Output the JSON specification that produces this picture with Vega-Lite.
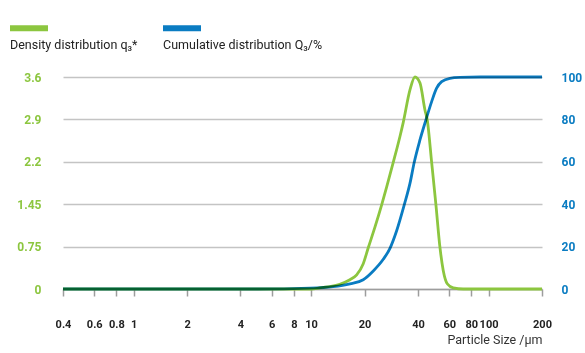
{
  "$schema": "https://vega.github.io/schema/vega-lite/v6.json",
  "autosize": {"type": "none"},
  "padding": {"left": 63, "top": 77, "right": 43, "bottom": 64},
  "width": 479,
  "height": 212,
  "background": "white",
  "config": {
    "view": {"stroke": null},
    "font": "Roboto, sans-serif"
  },
  "data": {
    "values": [
      {"size": 0.4, "value": 0, "series": "Density distribution q₃*"},
      {"size": 1, "value": 0, "series": "Density distribution q₃*"},
      {"size": 5, "value": 0, "series": "Density distribution q₃*"},
      {"size": 10, "value": 0, "series": "Density distribution q₃*"},
      {"size": 11.2, "value": 0.02, "series": "Density distribution q₃*"},
      {"size": 14.5, "value": 0.08, "series": "Density distribution q₃*"},
      {"size": 16.55, "value": 0.157, "series": "Density distribution q₃*"},
      {"size": 18.06, "value": 0.24, "series": "Density distribution q₃*"},
      {"size": 19.67, "value": 0.43, "series": "Density distribution q₃*"},
      {"size": 20.99, "value": 0.7, "series": "Density distribution q₃*"},
      {"size": 22.89, "value": 1.05, "series": "Density distribution q₃*"},
      {"size": 24.98, "value": 1.43, "series": "Density distribution q₃*"},
      {"size": 26.66, "value": 1.735, "series": "Density distribution q₃*"},
      {"size": 29.03, "value": 2.15, "series": "Density distribution q₃*"},
      {"size": 31.67, "value": 2.59, "series": "Density distribution q₃*"},
      {"size": 33.06, "value": 2.83, "series": "Density distribution q₃*"},
      {"size": 36.06, "value": 3.38, "series": "Density distribution q₃*"},
      {"size": 38.47, "value": 3.6, "series": "Density distribution q₃*"},
      {"size": 41.05, "value": 3.5, "series": "Density distribution q₃*"},
      {"size": 43.8, "value": 3.04, "series": "Density distribution q₃*"},
      {"size": 45.13, "value": 2.87, "series": "Density distribution q₃*"},
      {"size": 47.78, "value": 2.15, "series": "Density distribution q₃*"},
      {"size": 50.51, "value": 1.43, "series": "Density distribution q₃*"},
      {"size": 53.2, "value": 0.71, "series": "Density distribution q₃*"},
      {"size": 55.53, "value": 0.315, "series": "Density distribution q₃*"},
      {"size": 58.5, "value": 0.09, "series": "Density distribution q₃*"},
      {"size": 63.22, "value": 0.02, "series": "Density distribution q₃*"},
      {"size": 72, "value": 0, "series": "Density distribution q₃*"},
      {"size": 200, "value": 0, "series": "Density distribution q₃*"},
      {"size": 0.4, "value": 0, "series": "Cumulative distribution Q₃/%"},
      {"size": 1, "value": 0, "series": "Cumulative distribution Q₃/%"},
      {"size": 5, "value": 0, "series": "Cumulative distribution Q₃/%"},
      {"size": 9.9, "value": 0.4, "series": "Cumulative distribution Q₃/%"},
      {"size": 13.3, "value": 1.1, "series": "Cumulative distribution Q₃/%"},
      {"size": 16.55, "value": 2.46, "series": "Cumulative distribution Q₃/%"},
      {"size": 19.67, "value": 4.36, "series": "Cumulative distribution Q₃/%"},
      {"size": 22.4, "value": 8.5, "series": "Cumulative distribution Q₃/%"},
      {"size": 25.5, "value": 14.0, "series": "Cumulative distribution Q₃/%"},
      {"size": 27.82, "value": 19.2, "series": "Cumulative distribution Q₃/%"},
      {"size": 30.34, "value": 27.5, "series": "Cumulative distribution Q₃/%"},
      {"size": 33.48, "value": 39.7, "series": "Cumulative distribution Q₃/%"},
      {"size": 36.06, "value": 49.8, "series": "Cumulative distribution Q₃/%"},
      {"size": 38.12, "value": 59.8, "series": "Cumulative distribution Q₃/%"},
      {"size": 41.05, "value": 70.3, "series": "Cumulative distribution Q₃/%"},
      {"size": 44.37, "value": 79.8, "series": "Cumulative distribution Q₃/%"},
      {"size": 47.78, "value": 88.4, "series": "Cumulative distribution Q₃/%"},
      {"size": 50.97, "value": 94.7, "series": "Cumulative distribution Q₃/%"},
      {"size": 54.39, "value": 97.8, "series": "Cumulative distribution Q₃/%"},
      {"size": 60.57, "value": 99.4, "series": "Cumulative distribution Q₃/%"},
      {"size": 68.98, "value": 99.8, "series": "Cumulative distribution Q₃/%"},
      {"size": 90, "value": 100, "series": "Cumulative distribution Q₃/%"},
      {"size": 200, "value": 100, "series": "Cumulative distribution Q₃/%"}
    ]
  },
  "encoding": {
    "x": {
      "field": "size",
      "type": "quantitative",
      "scale": {"type": "log", "domain": [0.4, 200], "nice": false},
      "axis": {
        "values": [0.4, 0.6, 0.8, 1, 2, 4, 6, 8, 10, 20, 40, 60, 80, 100, 200],
        "format": "~g",
        "grid": false,
        "domainColor": "#9d9d9d",
        "domainWidth": 1.5,
        "tickColor": "#9d9d9d",
        "tickWidth": 1.5,
        "tickSize": 7,
        "labelFontSize": 11,
        "labelFontWeight": "bold",
        "labelColor": "#222222",
        "labelPadding": 22,
        "labelOverlap": false,
        "labelBound": false,
        "labelFlush": false,
        "title": "Particle Size /µm",
        "titleFontSize": 12.5,
        "titleFontWeight": "normal",
        "titleColor": "#333333",
        "titleAnchor": "end",
        "titlePadding": 4
      }
    },
    "color": {
      "field": "series",
      "type": "nominal",
      "scale": {
        "domain": ["Density distribution q₃*", "Cumulative distribution Q₃/%"],
        "range": ["#8cc63f", "#0a7cc2"]
      },
      "legend": {
        "orient": "none",
        "legendX": -53,
        "legendY": -42,
        "direction": "horizontal",
        "title": null,
        "symbolType": "M-1,-2H2.8V-1.4H-1Z",
        "symbolSize": 400,
        "symbolStrokeWidth": 0,
        "symbolOpacity": 1,
        "labelOffset": -20,
        "labelFontSize": 12.5,
        "labelLimit": 300,
        "labelColor": "#222222",
        "columnPadding": 25,
        "encode": {
          "symbols": {
            "update": {
              "fill": {"scale": "color", "field": "value"},
              "strokeWidth": {"value": 0},
              "opacity": {"value": 1}
            }
          }
        }
      }
    }
  },
  "layer": [
    {
      "transform": [{"filter": "datum.series == 'Density distribution q₃*'"}],
      "mark": {"type": "line", "interpolate": "monotone", "strokeWidth": 2.8},
      "encoding": {
        "y": {
          "field": "value",
          "type": "quantitative",
          "scale": {"domain": [0, 3.6], "nice": false},
          "axis": {
            "orient": "left",
            "values": [0, 0.72, 1.44, 2.16, 2.88, 3.6],
            "labelExpr": "datum.value == 0 ? '0' : datum.value < 1 ? '0.75' : datum.value < 2 ? '1.45' : datum.value < 2.5 ? '2.2' : datum.value < 3 ? '2.9' : '3.6'",
            "domain": false,
            "ticks": false,
            "grid": true,
            "gridColor": "#c4c4c4",
            "gridWidth": 1.5,
            "labelFontSize": 12,
            "labelFontWeight": "bold",
            "labelColor": "#8cc63f",
            "labelPadding": 22,
            "title": null
          }
        }
      }
    },
    {
      "transform": [{"filter": "datum.series == 'Cumulative distribution Q₃/%'"}],
      "mark": {"type": "line", "interpolate": "monotone", "strokeWidth": 2.8, "blend": "multiply"},
      "encoding": {
        "y": {
          "field": "value",
          "type": "quantitative",
          "scale": {"domain": [0, 100], "nice": false},
          "axis": {
            "orient": "right",
            "values": [0, 20, 40, 60, 80, 100],
            "domain": false,
            "ticks": false,
            "grid": false,
            "labelFontSize": 12,
            "labelFontWeight": "bold",
            "labelColor": "#0a7cc2",
            "labelPadding": 19,
            "title": null
          }
        }
      }
    }
  ],
  "resolve": {"scale": {"y": "independent"}}
}
